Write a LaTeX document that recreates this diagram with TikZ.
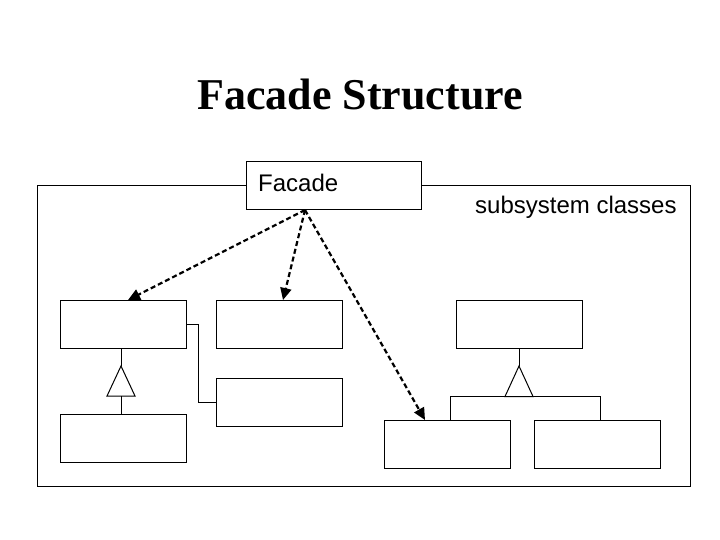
\documentclass[tikz,border=0pt]{standalone}
\usepackage{fontspec}
\setmainfont{Liberation Serif}
\newfontfamily\arialf{Liberation Sans}
\usetikzlibrary{arrows.meta}
\begin{document}
\begin{tikzpicture}[x=1pt,y=-1pt,
 box/.style={draw, line width=1pt, fill=white, minimum width=126pt, minimum height=48pt, inner sep=0pt, outer sep=0pt},
 dep/.style={line width=2.2pt, dash pattern=on 5pt off 3pt, -{Triangle[length=12pt,width=11pt]}},
 ln/.style={line width=1pt},
 lbl/.style={font=\arialf\fontsize{24}{28}\selectfont, inner sep=0pt}]
\useasboundingbox (0,0) rectangle (720,540);
\node[font=\bfseries\fontsize{44}{50}\selectfont, anchor=base, inner sep=0pt] (title) at (360,110) {Facade Structure};
% outer frame
\node[draw, line width=1pt, minimum width=653pt, minimum height=300pt, anchor=north west, inner sep=0pt, outer sep=0pt] (frame) at (37,186) {};
% facade
\node[box, minimum width=175pt] (facade) at (333.5,186) {};
\node[lbl, anchor=base west] (facadetext) at (258,192) {Facade};
\node[lbl, anchor=base west] (subsys) at (475,214) {subsystem classes};
% boxes
\node[box] (a) at (123,324) {};
\node[box] (b) at (123,438) {};
\node[box] (c) at (279,324) {};
\node[box] (d) at (279,402) {};
\node[box] (e) at (519.5,324) {};
\node[box] (f) at (447.3,444) {};
\node[box] (g) at (597.5,444) {};
% left inheritance
\coordinate (t1) at (121,366);
\draw[ln] (a.south -| t1) -- (t1);
\draw[ln] (t1) -- (107,396) -- (135,396) -- cycle;
\draw[ln] (121,396) -- (b.north -| t1);
% association a-d
\draw[ln] (a.east) -- ++(12,0) |- (d.west);
% right inheritance
\coordinate (t2) at (519,366);
\draw[ln] (e.south -| t2) -- (t2);
\draw[ln] (t2) -- (505,396.5) -- (533,396.5) -- cycle;
\coordinate (hl) at (450.3,396.5);
\coordinate (hr) at (600.3,396.5);
\draw[ln] (f.north -| hl) -- (hl) -- (hr) -- (g.north -| hr);
% dependencies
\coordinate (fs) at (305,210);
\coordinate (ta) at (128,300);
\coordinate (tc) at (283,300);
\coordinate (tf) at (425,420);
\draw[dep] (fs) -- (ta);
\draw[dep] (fs) -- (tc);
\draw[dep] (fs) -- (tf);
\end{tikzpicture}
\end{document}
